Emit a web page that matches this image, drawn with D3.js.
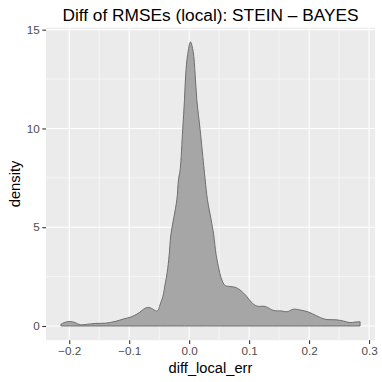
<!DOCTYPE html>
<html>
<head>
<meta charset="utf-8">
<script src="https://cdn.jsdelivr.net/npm/d3@7"></script>
<style>
  body { margin: 0; background: #fff; }
  svg { display: block; font-family: "Liberation Sans", Arial, sans-serif; }
</style>
</head>
<body>
<svg id="chart" width="382" height="382"></svg>
<script>
// density estimate
var diffX = [-0.2138, -0.2067, -0.1983, -0.19, -0.1817, -0.1717, -0.1567, -0.14, -0.1233, -0.11,
  -0.0967, -0.085, -0.0733, -0.0667, -0.06, -0.0533, -0.0475, -0.0438, -0.04, -0.0367,
  -0.0333, -0.0305, -0.0205, -0.0178, -0.015, -0.0108, -0.0078, -0.0058, -0.0025, 0.0022,
  0.0067, 0.01, 0.0128, 0.0183, 0.025, 0.0267, 0.0305, 0.0367, 0.0405, 0.045,
  0.0488, 0.0533, 0.06, 0.0683, 0.0767, 0.085, 0.0962, 0.1033, 0.1128, 0.1267,
  0.1405, 0.1545, 0.1633, 0.1738, 0.185, 0.1988, 0.2128, 0.2267, 0.2462, 0.2572,
  0.2683, 0.2767, 0.285];
var density = [0.09, 0.19, 0.23, 0.17, 0.06, 0.08, 0.13, 0.14, 0.23, 0.35,
  0.46, 0.64, 0.90, 0.94, 0.84, 0.76, 1.17, 1.49, 2.13, 2.69,
  3.60, 4.61, 6.39, 7.40, 7.91, 9.93, 11.45, 12.72, 13.74, 14.38,
  13.89, 12.72, 11.45, 9.93, 7.91, 7.40, 6.39, 5.37, 4.70, 3.60,
  3.01, 2.43, 2.05, 2.00, 1.96, 1.82, 1.49, 1.22, 1.01, 0.99,
  0.79, 0.76, 0.72, 0.85, 0.81, 0.71, 0.51, 0.34, 0.31, 0.25,
  0.17, 0.20, 0.22];

var xTicks = [-0.2, -0.1, 0.0, 0.1, 0.2, 0.3];
var xMinor = [-0.15, -0.05, 0.05, 0.15, 0.25];
var yTicks = [0, 5, 10, 15];
var yMinor = [2.5, 7.5, 12.5];

var titleText = 'Diff of RMSEs (local): STEIN \u2013 BAYES';
var xTitle = 'diff_local_err';
var yTitle = 'density';

var pts = diffX.map(function(d, i) { return {x: d, y: density[i]}; });

var svg = d3.select('#chart');
var pLeft = 46, pRight = 375, pTop = 27.7, pBottom = 340.2;

// ggplot style 5% expansion
var xr = d3.extent(diffX), xpad = (xr[1] - xr[0]) * 0.05;
var ymax = d3.max(density), ypad = ymax * 0.05;

var x = d3.scaleLinear().domain([xr[0] - xpad, xr[1] + xpad]).range([pLeft, pRight]);
var y = d3.scaleLinear().domain([-ypad, ymax + ypad]).range([pBottom, pTop]);

svg.append('rect')
  .attr('x', pLeft).attr('y', pTop)
  .attr('width', pRight - pLeft).attr('height', pBottom - pTop)
  .attr('fill', '#ebebeb');

var grid = svg.append('g');
xMinor.forEach(function(t) {
  grid.append('line').attr('x1', x(t)).attr('x2', x(t)).attr('y1', pTop).attr('y2', pBottom)
    .attr('stroke', '#fff').attr('stroke-width', 0.55);
});
yMinor.forEach(function(t) {
  grid.append('line').attr('x1', pLeft).attr('x2', pRight).attr('y1', y(t)).attr('y2', y(t))
    .attr('stroke', '#fff').attr('stroke-width', 0.55);
});
xTicks.forEach(function(t) {
  grid.append('line').attr('x1', x(t)).attr('x2', x(t)).attr('y1', pTop).attr('y2', pBottom)
    .attr('stroke', '#fff').attr('stroke-width', 1.1);
});
yTicks.forEach(function(t) {
  grid.append('line').attr('x1', pLeft).attr('x2', pRight).attr('y1', y(t)).attr('y2', y(t))
    .attr('stroke', '#fff').attr('stroke-width', 1.1);
});

var area = d3.area()
  .x(function(d) { return x(d.x); })
  .y0(y(0))
  .y1(function(d) { return y(d.y); })
  .curve(d3.curveCatmullRom.alpha(0.5));

svg.append('path')
  .datum(pts)
  .attr('d', area)
  .attr('fill', '#a6a6a6')
  .attr('stroke', '#6e6e6e')
  .attr('stroke-width', 1);

// axes
var xAxis = svg.append('g')
  .attr('transform', 'translate(0,' + pBottom + ')')
  .call(d3.axisBottom(x).tickValues(xTicks).tickSize(3.7).tickPadding(2.5)
    .tickFormat(function(d) { return d3.format('.1f')(d).replace('-', '\u2212'); }));
var yAxis = svg.append('g')
  .attr('transform', 'translate(' + pLeft + ',0)')
  .call(d3.axisLeft(y).tickValues(yTicks).tickSize(3.7).tickPadding(2.5));

[xAxis, yAxis].forEach(function(a) {
  a.select('.domain').remove();
  a.selectAll('.tick line').attr('stroke', '#333333').attr('stroke-width', 1.1);
  a.selectAll('.tick text').attr('fill', '#4d4d4d')
    .style('font-size', '11.7px').style('font-family', '"Liberation Sans", Arial, sans-serif');
});

svg.append('text')
  .attr('x', (pLeft + pRight) / 2).attr('y', 20.7)
  .attr('text-anchor', 'middle')
  .style('font-size', '17.3px')
  .attr('fill', '#000')
  .text(titleText);

svg.append('text')
  .attr('x', (pLeft + pRight) / 2).attr('y', 373)
  .attr('text-anchor', 'middle')
  .style('font-size', '14.7px')
  .text(xTitle);

svg.append('text')
  .attr('transform', 'translate(20,' + (pTop + pBottom) / 2 + ') rotate(-90)')
  .attr('text-anchor', 'middle')
  .style('font-size', '14.7px')
  .text(yTitle);
</script>
</body>
</html>
